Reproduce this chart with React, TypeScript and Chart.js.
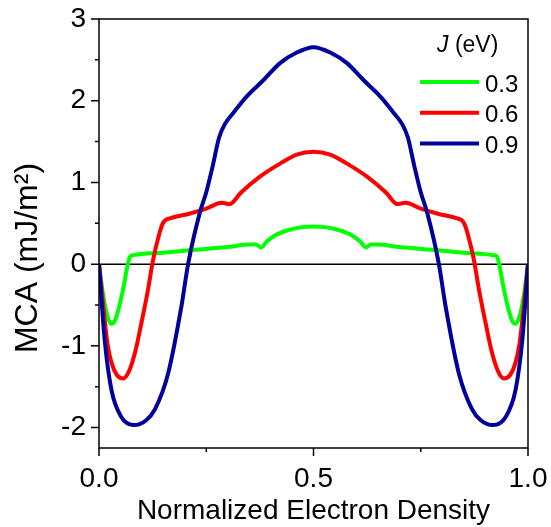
import { useEffect, useRef } from "react";
import { Chart, registerables } from "chart.js";

Chart.register(...registerables);

// ---- Data ----
const densityJ03 = [0, 0.008, 0.016, 0.024, 0.03, 0.038, 0.048, 0.058, 0.066, 0.072, 0.08, 0.15, 0.21, 0.3, 0.35, 0.366, 0.378, 0.39, 0.41, 0.44, 0.47, 0.5, 0.53, 0.56, 0.59, 0.61, 0.622, 0.634, 0.65, 0.7, 0.79, 0.85, 0.92, 0.928, 0.934, 0.942, 0.952, 0.962, 0.97, 0.976, 0.984, 0.992, 1];
const mcaJ03 = [0, -0.32, -0.56, -0.7, -0.73, -0.68, -0.5, -0.26, -0.03, 0.09, 0.11, 0.14, 0.17, 0.21, 0.24, 0.24, 0.205, 0.27, 0.35, 0.415, 0.45, 0.46, 0.45, 0.415, 0.35, 0.27, 0.205, 0.24, 0.24, 0.21, 0.17, 0.14, 0.11, 0.09, -0.03, -0.26, -0.5, -0.68, -0.73, -0.7, -0.56, -0.32, 0];

const densityJ06 = [0, 0.01, 0.02, 0.03, 0.042, 0.056, 0.07, 0.085, 0.1, 0.114, 0.126, 0.14, 0.148, 0.155, 0.165, 0.212, 0.25, 0.286, 0.305, 0.33, 0.375, 0.422, 0.461, 0.5, 0.539, 0.578, 0.625, 0.67, 0.695, 0.714, 0.75, 0.788, 0.835, 0.845, 0.852, 0.86, 0.874, 0.886, 0.9, 0.915, 0.93, 0.944, 0.958, 0.97, 0.98, 0.99, 1];
const mcaJ06 = [0, -0.52, -0.98, -1.22, -1.36, -1.4, -1.31, -1.06, -0.69, -0.32, 0.05, 0.36, 0.49, 0.54, 0.56, 0.62, 0.68, 0.75, 0.735, 0.87, 1.07, 1.23, 1.34, 1.375, 1.34, 1.23, 1.07, 0.87, 0.735, 0.75, 0.68, 0.62, 0.56, 0.54, 0.49, 0.36, 0.05, -0.32, -0.69, -1.06, -1.31, -1.4, -1.36, -1.22, -0.98, -0.52, 0];

const densityJ09 = [0, 0.0133, 0.029, 0.052, 0.082, 0.11, 0.13, 0.161, 0.192, 0.208, 0.235, 0.25, 0.265, 0.28, 0.293, 0.313, 0.344, 0.383, 0.422, 0.461, 0.5, 0.539, 0.578, 0.617, 0.656, 0.687, 0.707, 0.72, 0.735, 0.75, 0.765, 0.792, 0.808, 0.839, 0.87, 0.89, 0.918, 0.948, 0.971, 0.9867, 1];
const mcaJ09 = [0, -0.93, -1.54, -1.87, -1.97, -1.91, -1.78, -1.34, -0.52, 0.01, 0.63, 0.88, 1.2, 1.55, 1.71, 1.85, 2.05, 2.25, 2.46, 2.59, 2.655, 2.59, 2.46, 2.25, 2.05, 1.85, 1.71, 1.55, 1.2, 0.88, 0.63, 0.01, -0.52, -1.34, -1.78, -1.91, -1.97, -1.87, -1.54, -0.93, 0];

const seriesLabels = ["0.3", "0.6", "0.9"];
const seriesColors = ["#00FF00", "#FF0000", "#00009C"];
const legendTitleItalic = "J";
const legendTitleRest = " (eV)";
const xTitle = "Normalized Electron Density";
const yTitle = "MCA (mJ/m²)";
const xMajorTicks = [0, 0.5, 1];
const xMinorTicks = [0.25, 0.75];
const yMajorTicks = [-2, -1, 0, 1, 2, 3];
const yMinorTicks = [-1.5, -0.5, 0.5, 1.5, 2.5];

const FONT = "'Liberation Sans', Arial, sans-serif";

function toPoints(xs: number[], ys: number[]) {
  return xs.map((x, i) => ({ x, y: ys[i] }));
}

const framePlugin = {
  id: "frame",
  beforeDatasetsDraw(chart: any) {
    const { ctx, chartArea } = chart;
    const y0 = chart.scales.y.getPixelForValue(0);
    ctx.save();
    ctx.strokeStyle = "#000";
    ctx.lineWidth = 1.5;
    ctx.beginPath();
    ctx.moveTo(chartArea.left, y0);
    ctx.lineTo(chartArea.right, y0);
    ctx.stroke();
    ctx.restore();
  },
  afterDatasetsDraw(chart: any) {
    const { ctx, chartArea } = chart;
    const xs = chart.scales.x;
    const ys = chart.scales.y;
    ctx.save();
    ctx.strokeStyle = "#000";
    ctx.lineWidth = 1.5;
    ctx.strokeRect(chartArea.left, chartArea.top, chartArea.right - chartArea.left, chartArea.bottom - chartArea.top);
    ctx.beginPath();
    xMajorTicks.forEach((v) => {
      const px = xs.getPixelForValue(v);
      ctx.moveTo(px, chartArea.bottom);
      ctx.lineTo(px, chartArea.bottom + 8);
    });
    xMinorTicks.forEach((v) => {
      const px = xs.getPixelForValue(v);
      ctx.moveTo(px, chartArea.bottom);
      ctx.lineTo(px, chartArea.bottom + 4);
    });
    yMajorTicks.forEach((v) => {
      const py = ys.getPixelForValue(v);
      ctx.moveTo(chartArea.left, py);
      ctx.lineTo(chartArea.left - 8, py);
    });
    yMinorTicks.forEach((v) => {
      const py = ys.getPixelForValue(v);
      ctx.moveTo(chartArea.left, py);
      ctx.lineTo(chartArea.left - 4, py);
    });
    ctx.stroke();

    // y-axis title
    ctx.fillStyle = "#000";
    ctx.save();
    ctx.translate(28, 258);
    ctx.rotate(-Math.PI / 2);
    ctx.font = `32px ${FONT}`;
    ctx.textAlign = "center";
    ctx.textBaseline = "middle";
    ctx.fillText(yTitle, 0, 0);
    ctx.restore();

    // legend
    ctx.textAlign = "left";
    ctx.textBaseline = "alphabetic";
    ctx.font = `italic 23px ${FONT}`;
    ctx.fillText(legendTitleItalic, 437, 52);
    const jw = ctx.measureText(legendTitleItalic).width;
    ctx.font = `23px ${FONT}`;
    ctx.fillText(legendTitleRest, 437 + jw, 52);
    ctx.font = `24px ${FONT}`;
    seriesLabels.forEach((lab, i) => {
      const ly = 82 + i * 30.7;
      ctx.strokeStyle = seriesColors[i];
      ctx.lineWidth = 4;
      ctx.beginPath();
      ctx.moveTo(420, ly);
      ctx.lineTo(479, ly);
      ctx.stroke();
      ctx.fillStyle = "#000";
      ctx.fillText(lab, 485, ly + 9.5);
    });
    ctx.restore();
  },
};

const noOverhang = (s: any) => {
  s.paddingTop = 0;
  s.paddingBottom = 0;
  s.paddingLeft = 0;
  s.paddingRight = 0;
};

export default function App() {
  const ref = useRef<HTMLCanvasElement | null>(null);
  useEffect(() => {
    if (!ref.current) return;
    const mk = (xs: number[], ys: number[], i: number) => ({
      label: seriesLabels[i],
      data: toPoints(xs, ys),
      borderColor: seriesColors[i],
      backgroundColor: seriesColors[i],
      borderWidth: 4,
      pointRadius: 0,
      fill: false,
      cubicInterpolationMode: "monotone" as const,
      order: 3 - i,
    });
    const chart = new Chart(ref.current, {
      type: "line",
      data: {
        datasets: [mk(densityJ03, mcaJ03, 0), mk(densityJ06, mcaJ06, 1), mk(densityJ09, mcaJ09, 2)],
      },
      options: {
        animation: false,
        responsive: true,
        maintainAspectRatio: false,
        layout: { padding: { top: 19, right: 23, left: 0, bottom: 0 } },
        plugins: { legend: { display: false }, tooltip: { enabled: false } },
        scales: {
          x: {
            type: "linear",
            min: 0,
            max: 1,
            grid: { display: false },
            border: { display: false },
            ticks: {
              stepSize: 0.5,
              includeBounds: false,
              padding: 6,
              color: "#000",
              font: { family: FONT, size: 28 },
              callback: (v: any) => Number(v).toFixed(1),
            },
            title: {
              display: true,
              text: xTitle,
              color: "#000",
              font: { family: FONT, size: 28, lineHeight: 1.1 },
              padding: { top: 0, bottom: 0 },
            },
            afterFit: (s: any) => {
              s.height = 79;
              noOverhang(s);
            },
          },
          y: {
            type: "linear",
            min: -2.25,
            max: 3,
            grid: { display: false },
            border: { display: false },
            ticks: {
              stepSize: 1,
              includeBounds: false,
              padding: 5,
              color: "#000",
              font: { family: FONT, size: 28 },
              callback: (v: any) => String(v),
            },
            title: { display: false },
            afterFit: (s: any) => {
              s.width = 99;
              noOverhang(s);
            },
          },
        },
      },
      plugins: [framePlugin],
    });
    return () => chart.destroy();
  }, []);
  return (
    <div style={{ position: "fixed", left: 0, top: 0, width: 551, height: 527, background: "#fff" }}>
      <canvas ref={ref} />
    </div>
  );
}
